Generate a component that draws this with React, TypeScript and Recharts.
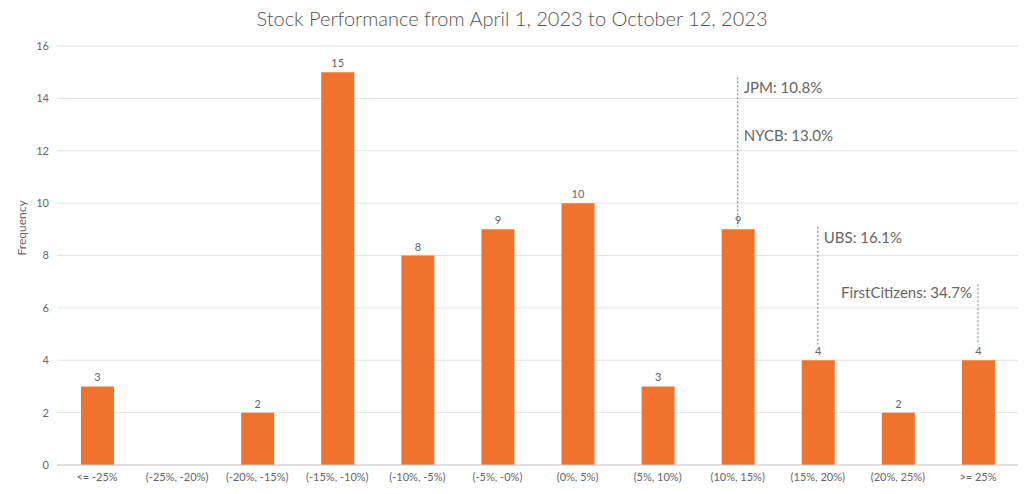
import React from 'react'
import {
  BarChart,
  Bar,
  XAxis,
  YAxis,
  CartesianGrid,
  LabelList,
  ReferenceLine,
} from 'recharts'

const categories = [
  '<= -25%', '(-25%, -20%)', '(-20%, -15%)', '(-15%, -10%)', '(-10%, -5%)', '(-5%, -0%)',
  '(0%, 5%)', '(5%, 10%)', '(10%, 15%)', '(15%, 20%)', '(20%, 25%)', '>= 25%',
]
const frequency = [3, 0, 2, 15, 8, 9, 10, 3, 9, 4, 2, 4]
const yTicks = [0, 2, 4, 6, 8, 10, 12, 14, 16]

// annotations: bin, line top, line bottom, label rows
const annotations = [
  { bin: '(10%, 15%)', top: 14.8, bottom: 9.1, labels: [{ text: 'JPM: 10.8%', y: 14.4 }, { text: 'NYCB: 13.0%', y: 12.55 }], anchor: 'start' },
  { bin: '(15%, 20%)', top: 9.1, bottom: 4.6, labels: [{ text: 'UBS: 16.1%', y: 8.65 }], anchor: 'start' },
  { bin: '>= 25%', top: 6.9, bottom: 4.6, labels: [{ text: 'FirstCitizens: 34.7%', y: 6.55 }], anchor: 'end' },
]

const data = categories.map((c, i) => ({ bin: c, value: frequency[i] }))
const font = 'Lato, "Open Sans", sans-serif'
const grey = '#666'

export default function App() {
  return (
    <div style={{ position: 'absolute', left: 0, top: 0, width: 1024, height: 494, background: '#fff', fontFamily: font }}>
      <div style={{ position: 'absolute', top: 6, width: 1024, textAlign: 'center', fontSize: 20, color: '#555', fontWeight: 300 }}>
        Stock Performance from April 1, 2023 to October 12, 2023
      </div>
      <BarChart width={1024} height={494} data={data} margin={{ top: 46, right: 6, left: 0, bottom: 4 }} barSize={33}>
        <CartesianGrid vertical={false} stroke="#e3e3e3" />
        <XAxis dataKey="bin" tickLine={false} axisLine={{ stroke: '#ccc' }} interval={0} height={25}
          tick={{ fontSize: 11, fill: grey, fontFamily: font }} />
        <YAxis domain={[0, 16]} ticks={yTicks} tickLine={false} axisLine={false} width={57}
          tick={{ fontSize: 11, fill: grey, fontFamily: font }}
          label={{ value: 'Frequency', angle: -90, position: 'insideLeft', offset: 22, fill: grey, fontSize: 12 }} />
        <Bar dataKey="value" fill="#ef732e" isAnimationActive={false}>
          <LabelList dataKey="value" position="top" fill={grey} fontSize={11}
            formatter={(v: number) => (v > 0 ? v : '')} />
        </Bar>
        {annotations.map((a) => (
          <ReferenceLine key={a.bin} segment={[{ x: a.bin, y: a.top }, { x: a.bin, y: a.bottom }]}
            stroke="#777" strokeDasharray="2 2" />
        ))}
        {annotations.flatMap((a) =>
          a.labels.map((l) => (
            <ReferenceLine key={l.text} segment={[{ x: a.bin, y: l.y }, { x: a.bin, y: l.y }]} stroke="none"
              label={(props: any) => {
                const vb = props.viewBox || {}
                const x = vb.x ?? 0
                const y = vb.y ?? 0
                return (
                  <text x={a.anchor === 'start' ? x + 6 : x - 6} y={y} dy={5} textAnchor={a.anchor as any}
                    fill={grey} fontSize={15} fontFamily={font}>{l.text}</text>
                )
              }} />
          ))
        )}
      </BarChart>
    </div>
  )
}
